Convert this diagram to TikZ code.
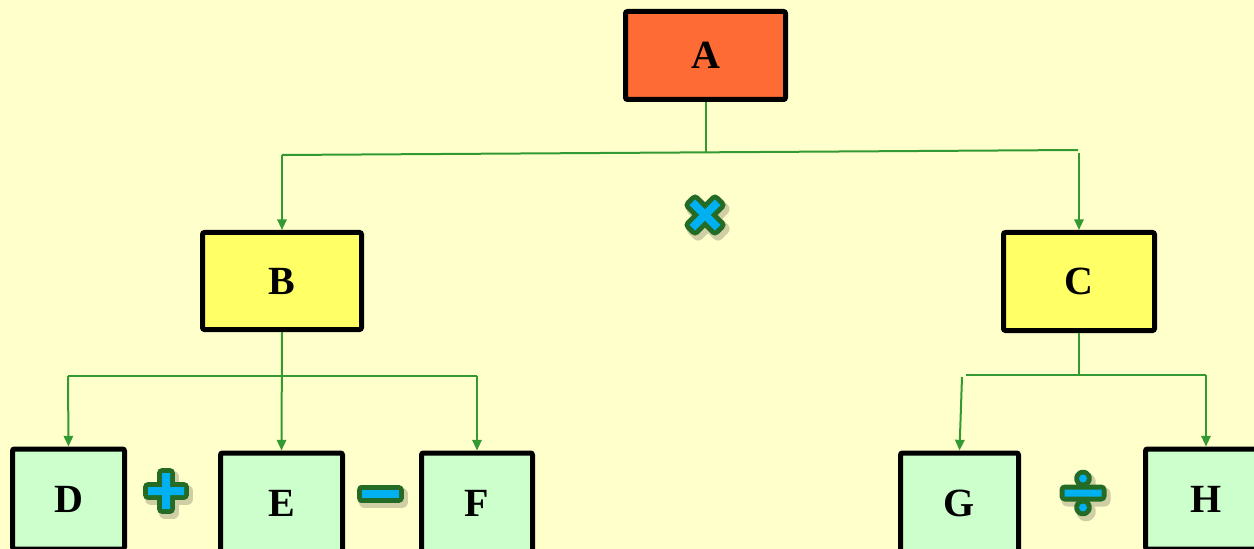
\documentclass[tikz,border=0pt]{standalone}
\usepackage{fontspec}
\setmainfont{Liberation Serif}
\usetikzlibrary{arrows.meta}
\definecolor{paper}{RGB}{255,255,204}
\definecolor{rootfill}{RGB}{255,107,53}
\definecolor{midfill}{RGB}{255,255,102}
\definecolor{leaffill}{RGB}{204,255,204}
\definecolor{linkgreen}{RGB}{51,153,51}
\definecolor{signgreen}{RGB}{36,108,38}
\definecolor{signcyan}{RGB}{0,176,240}
\tikzset{
  opbox/.style={draw=black,line width=3.75pt,rounded corners=1.5pt,inner sep=0pt,
    font=\bfseries\fontsize{30}{31}\selectfont},
  link/.style={draw=linkgreen,line width=1.5pt},
  feed/.style={link,-{Triangle[length=8pt,width=7pt]}},
  shade/.style={shift={(3,4)},draw=black!70!olive,draw opacity=0.25,line width=9pt,line join=round},
  rim/.style={draw=signgreen,line width=7.5pt,line join=round},
  core/.style={fill=signcyan}
}
\begin{document}
\begin{tikzpicture}[x=0.75pt,y=0.75pt,yscale=-1,xscale=1]
\fill[paper] (0,0) rectangle (1254,549);
\useasboundingbox (0,0) rectangle (1254,549);

\node[opbox,fill=rootfill,minimum width=120pt,minimum height=66pt] (A) at (705.5,55.5) {A};
\node[opbox,fill=midfill,minimum width=119.25pt,minimum height=72.75pt] (B) at (282,281) {B};
\node[opbox,fill=midfill,minimum width=113.25pt,minimum height=73.5pt] (C) at (1079,281.5) {C};
\node[opbox,fill=leaffill,minimum width=84pt,minimum height=75pt] (D) at (68.5,499) {D};
\node[opbox,fill=leaffill,minimum width=91.5pt,minimum height=75pt] (E) at (281.5,503) {E};
\node[opbox,fill=leaffill,minimum width=83.25pt,minimum height=75pt] (F) at (477,503) {F};
\node[opbox,fill=leaffill,minimum width=88.5pt,minimum height=75pt] (G) at (959.5,503) {G};
\node[opbox,fill=leaffill,minimum width=90.75pt,minimum height=75pt] (H) at (1206,499) {H};

\coordinate (a0) at (705.5,152.5);
\coordinate (ab) at (282,155);
\coordinate (ac) at (1078,150);
\coordinate (ac1) at (1079,153);
\draw[link] (A.south) -- (a0);
\draw[link] (ab) -- (ac);
\draw[feed] (ab) -- (B.north);
\draw[feed] (ac1) -- (C.north);

\coordinate (bd) at (68,376);
\coordinate (bf) at (477,376);
\draw[link] (bd) -- (bf);
\draw[feed] (B.south) -- (E.north);
\draw[feed] (bd) -- (D.north);
\draw[feed] (bf) -- (F.north);

\coordinate (c0) at (1079,375);
\coordinate (cg) at (966,375);
\coordinate (cg1) at (962,377);
\coordinate (ch) at (1206,375);
\draw[link] (C.south) -- (c0);
\draw[link] (cg) -- (ch);
\draw[feed] (cg1) -- (G.north);
\draw[feed] (ch) -- (H.north);

\foreach \lay in {shade,rim,core} {
  \path[\lay,shift={(166,491)}] (-4,-18) -- (4,-18) -- (4,-4) -- (18,-4) -- (18,4) -- (4,4) -- (4,18) -- (-4,18) -- (-4,4) -- (-18,4) -- (-18,-4) -- (-4,-4) -- cycle;
  \path[\lay,shift={(705,215)},rotate=45] (-4,-18) -- (4,-18) -- (4,-4) -- (18,-4) -- (18,4) -- (4,4) -- (4,18) -- (-4,18) -- (-4,4) -- (-18,4) -- (-18,-4) -- (-4,-4) -- cycle;
  \path[\lay] (361.5,490) rectangle (398.5,498);
  \path[\lay,shift={(1083,493)}] (-18.5,-3.5) rectangle (18.5,3.5) (0,-14.5) circle[radius=4] (0,14.5) circle[radius=4];
}
\end{tikzpicture}
\end{document}
